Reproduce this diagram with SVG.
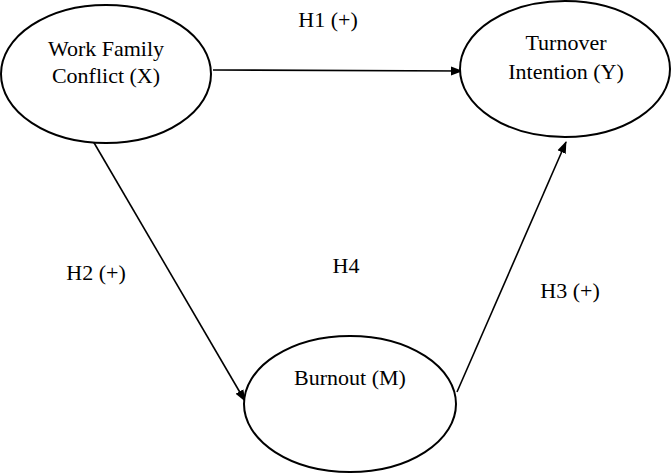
<svg xmlns="http://www.w3.org/2000/svg" width="672" height="473" viewBox="0 0 672 473">
<style>
.n{fill:#fff;stroke:#000;stroke-width:2}
.t{font-size:22px;fill:#000;text-anchor:middle}
.c{stroke:#000;stroke-width:1.6;fill:none;marker-end:url(#ah)}
</style>
<defs>
<marker id="ah" viewBox="0 0 12 10" refX="11" refY="5" markerWidth="12" markerHeight="10" markerUnits="userSpaceOnUse" orient="auto">
<path d="M0,0.5 L12,5 L0,9.5 z" fill="#000"/>
</marker>
</defs>
<rect width="672" height="473" fill="#fff"/>
<g id="connectors" font-family="'Liberation Serif', 'Times New Roman', 'DejaVu Serif', serif">
<line class="c" x1="213" y1="70" x2="462" y2="71"/>
<line class="c" x1="93" y1="141" x2="245" y2="401"/>
<line class="c" x1="457" y1="392" x2="566" y2="142"/>
<text class="t" x="328" y="27">H1 (+)</text>
<text class="t" x="96" y="280">H2 (+)</text>
<text class="t" x="346" y="273">H4</text>
<text class="t" x="570" y="298">H3 (+)</text>
</g>
<g id="nodeX" font-family="'Liberation Serif', 'Times New Roman', 'DejaVu Serif', serif">
<ellipse class="n" cx="106" cy="74" rx="105" ry="69"/>
<text class="t" x="106" y="56">Work Family</text>
<text class="t" x="106" y="83">Conflict (X)</text>
</g>
<g id="nodeY" font-family="'Liberation Serif', 'Times New Roman', 'DejaVu Serif', serif">
<ellipse class="n" cx="565" cy="69" rx="105" ry="68"/>
<text class="t" x="566" y="50">Turnover</text>
<text class="t" x="566" y="79">Intention (Y)</text>
</g>
<g id="nodeM" font-family="'Liberation Serif', 'Times New Roman', 'DejaVu Serif', serif">
<ellipse class="n" cx="350" cy="404" rx="106" ry="68"/>
<text class="t" x="350" y="385">Burnout (M)</text>
</g>
</svg>
